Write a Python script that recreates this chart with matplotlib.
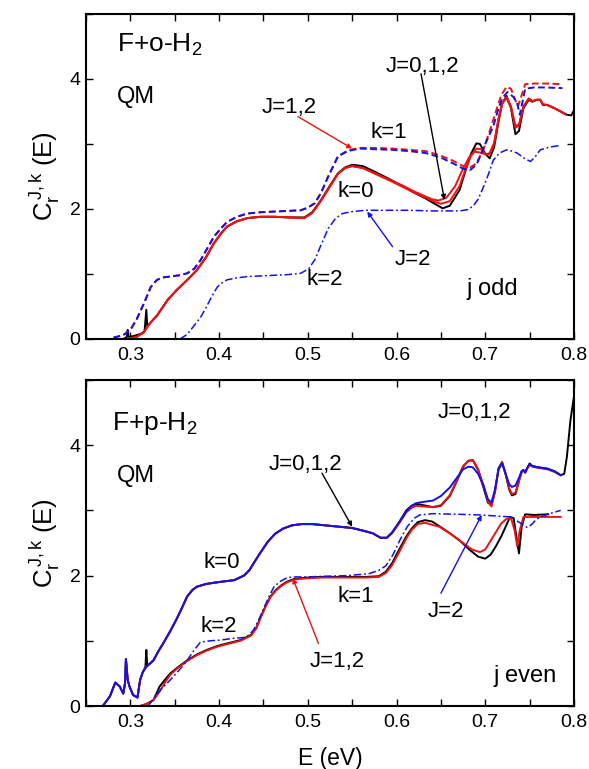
import matplotlib
matplotlib.use("Agg")
import matplotlib.pyplot as plt
from matplotlib.ticker import MultipleLocator, FixedLocator, NullFormatter
from matplotlib import rcParams

rcParams['font.family'] = ['Liberation Sans', 'DejaVu Sans']
rcParams['mathtext.fontset'] = 'custom'
rcParams['mathtext.rm'] = 'Liberation Sans'
rcParams['mathtext.it'] = 'Liberation Sans:italic'
#================================================================================================#
## data: energies (eV) and C_r^{J,k}(E)
# --- upper panel, F + o-H2 (j odd) ---
o_k0_J0_E = [0.292, 0.296, 0.297, 0.298, 0.305, 0.312, 0.316, 0.318, 0.319, 0.322, 0.330, 0.342, 0.352,
             0.365, 0.375, 0.385, 0.394, 0.402, 0.409, 0.420, 0.432, 0.447, 0.462, 0.480, 0.496, 0.505,
             0.515, 0.525, 0.534, 0.542, 0.550, 0.562, 0.576, 0.592, 0.607, 0.620, 0.633, 0.643, 0.652,
             0.660, 0.671, 0.678, 0.684, 0.690, 0.694, 0.700, 0.705, 0.710, 0.715, 0.719, 0.724, 0.729,
             0.734, 0.738, 0.743, 0.749, 0.753, 0.758, 0.762, 0.765, 0.770, 0.778, 0.785, 0.792, 0.797, 0.800]
o_k0_J0_C = [0.00, 0.03, 0.14, 0.03, 0.05, 0.08, 0.12, 0.45, 0.20, 0.24, 0.36, 0.60, 0.75,
             0.92, 1.06, 1.25, 1.47, 1.62, 1.73, 1.81, 1.86, 1.88, 1.88, 1.87, 1.87, 1.95,
             2.14, 2.36, 2.55, 2.64, 2.68, 2.66, 2.57, 2.46, 2.35, 2.25, 2.16, 2.08, 2.01,
             2.05, 2.29, 2.60, 2.85, 3.01, 3.00, 2.85, 2.78, 2.95, 3.35, 3.62, 3.74, 3.55,
             3.15, 3.20, 3.55, 3.68, 3.65, 3.68, 3.68, 3.60, 3.60, 3.55, 3.50, 3.45, 3.44, 3.52]

o_k0_J1_E = [0.293, 0.300, 0.307, 0.315, 0.322, 0.330, 0.342, 0.352, 0.365, 0.375, 0.385, 0.394, 0.402,
             0.409, 0.420, 0.432, 0.447, 0.462, 0.480, 0.496, 0.505, 0.515, 0.525, 0.534, 0.542, 0.550,
             0.562, 0.576, 0.592, 0.607, 0.620, 0.633, 0.643, 0.650, 0.660, 0.671, 0.678, 0.684, 0.690,
             0.695, 0.700, 0.705, 0.710, 0.715, 0.719, 0.724, 0.729, 0.734, 0.738, 0.743, 0.749, 0.753,
             0.758, 0.762, 0.765, 0.770, 0.778, 0.785, 0.790]
o_k0_J1_C = [0.00, 0.01, 0.03, 0.10, 0.24, 0.36, 0.60, 0.75, 0.92, 1.06, 1.25, 1.47, 1.62,
             1.73, 1.81, 1.86, 1.88, 1.88, 1.87, 1.86, 1.94, 2.13, 2.35, 2.54, 2.63, 2.66,
             2.63, 2.54, 2.44, 2.34, 2.25, 2.17, 2.11, 2.08, 2.12, 2.35, 2.62, 2.82, 2.93,
             2.92, 2.85, 2.84, 3.00, 3.38, 3.62, 3.72, 3.58, 3.28, 3.30, 3.58, 3.70, 3.66,
             3.68, 3.68, 3.61, 3.60, 3.55, 3.50, 3.46]

o_k0_J2_E = [0.293, 0.300, 0.307, 0.315, 0.322, 0.330, 0.342, 0.352, 0.365, 0.375, 0.385, 0.394, 0.402,
             0.409, 0.420, 0.432, 0.447, 0.462, 0.480, 0.496, 0.505, 0.515, 0.525, 0.534, 0.542, 0.550,
             0.562, 0.576, 0.592, 0.607, 0.620, 0.633, 0.640, 0.647, 0.656, 0.666, 0.675, 0.682, 0.688,
             0.694, 0.700, 0.705, 0.710, 0.715, 0.719, 0.724, 0.729, 0.734, 0.738, 0.743, 0.749, 0.753,
             0.758, 0.762, 0.765, 0.770, 0.778, 0.785, 0.790]
o_k0_J2_C = [0.00, 0.01, 0.03, 0.10, 0.24, 0.36, 0.60, 0.75, 0.92, 1.06, 1.25, 1.47, 1.62,
             1.73, 1.81, 1.86, 1.88, 1.88, 1.87, 1.86, 1.94, 2.13, 2.35, 2.54, 2.63, 2.66,
             2.63, 2.55, 2.45, 2.36, 2.27, 2.19, 2.15, 2.13, 2.17, 2.35, 2.62, 2.80, 2.88,
             2.87, 2.84, 2.86, 3.02, 3.40, 3.62, 3.71, 3.56, 3.25, 3.28, 3.57, 3.70, 3.66,
             3.68, 3.68, 3.61, 3.60, 3.55, 3.50, 3.46]

o_k1_J1_E = [0.281, 0.292, 0.300, 0.307, 0.316, 0.323, 0.330, 0.338, 0.345, 0.355, 0.364, 0.372, 0.379,
             0.387, 0.394, 0.402, 0.409, 0.420, 0.432, 0.447, 0.462, 0.477, 0.492, 0.500, 0.508, 0.515,
             0.523, 0.534, 0.545, 0.558, 0.575, 0.595, 0.615, 0.633, 0.650, 0.664, 0.675, 0.683, 0.690,
             0.698, 0.705, 0.712, 0.718, 0.724, 0.729, 0.733, 0.737, 0.741, 0.745, 0.755, 0.770, 0.787]
o_k1_J1_C = [0.02, 0.06, 0.14, 0.30, 0.57, 0.80, 0.91, 0.95, 0.96, 0.98, 1.01, 1.08, 1.21,
             1.40, 1.57, 1.70, 1.80, 1.88, 1.93, 1.95, 1.96, 1.97, 1.98, 2.02, 2.09, 2.25,
             2.50, 2.81, 2.90, 2.94, 2.94, 2.93, 2.91, 2.89, 2.82, 2.74, 2.66, 2.64, 2.70,
             2.92, 3.20, 3.50, 3.75, 3.88, 3.85, 3.70, 3.58, 3.75, 3.92, 3.93, 3.93, 3.92]

o_k1_J2_E = [0.281, 0.292, 0.300, 0.307, 0.316, 0.323, 0.330, 0.338, 0.345, 0.355, 0.364, 0.372, 0.379,
             0.387, 0.394, 0.402, 0.409, 0.420, 0.432, 0.447, 0.462, 0.477, 0.492, 0.500, 0.508, 0.515,
             0.523, 0.534, 0.545, 0.558, 0.575, 0.595, 0.615, 0.633, 0.650, 0.664, 0.675, 0.683, 0.690,
             0.694, 0.700, 0.709, 0.715, 0.719, 0.725, 0.732, 0.736, 0.739, 0.742, 0.745, 0.755, 0.766, 0.787]
o_k1_J2_C = [0.02, 0.06, 0.14, 0.30, 0.57, 0.80, 0.91, 0.95, 0.96, 0.98, 1.01, 1.08, 1.21,
             1.40, 1.57, 1.70, 1.80, 1.88, 1.93, 1.95, 1.96, 1.97, 1.98, 2.02, 2.09, 2.25,
             2.50, 2.81, 2.89, 2.93, 2.92, 2.91, 2.89, 2.86, 2.79, 2.70, 2.62, 2.60, 2.68,
             2.80, 3.00, 3.27, 3.55, 3.70, 3.80, 3.72, 3.62, 3.45, 3.65, 3.85, 3.87, 3.87, 3.86]

o_k2_J2_E = [0.356, 0.364, 0.371, 0.379, 0.386, 0.392, 0.398, 0.404, 0.409, 0.420, 0.432, 0.447, 0.462,
             0.477, 0.492, 0.501, 0.508, 0.515, 0.523, 0.531, 0.539, 0.550, 0.565, 0.590, 0.614, 0.640,
             0.671, 0.680, 0.686, 0.692, 0.698, 0.704, 0.709, 0.716, 0.724, 0.730, 0.736, 0.744, 0.751,
             0.756, 0.762, 0.772, 0.785]
o_k2_J2_C = [0.00, 0.07, 0.19, 0.33, 0.50, 0.66, 0.80, 0.87, 0.91, 0.94, 0.96, 0.97, 0.98,
             0.99, 1.01, 1.08, 1.22, 1.45, 1.70, 1.85, 1.93, 1.96, 1.98, 1.98, 1.98, 1.97,
             1.97, 1.99, 2.04, 2.15, 2.34, 2.55, 2.75, 2.86, 2.91, 2.89, 2.86, 2.78, 2.73,
             2.80, 2.91, 2.95, 2.98]

# --- lower panel, F + p-H2 (j even) ---
p_k0_J0_E = [0.270, 0.277, 0.283, 0.288, 0.292, 0.294, 0.295, 0.297, 0.299, 0.303, 0.308, 0.311, 0.314,
             0.317, 0.318, 0.319, 0.322, 0.326, 0.332, 0.337, 0.345, 0.352, 0.358, 0.364, 0.370, 0.375,
             0.385, 0.394, 0.405, 0.417, 0.428, 0.434, 0.439, 0.446, 0.455, 0.463, 0.472, 0.482, 0.493,
             0.505, 0.520, 0.535, 0.550, 0.562, 0.573, 0.582, 0.589, 0.595, 0.603, 0.611, 0.617, 0.622,
             0.630, 0.641, 0.650, 0.660, 0.668, 0.675, 0.681, 0.686, 0.692, 0.698, 0.703, 0.707, 0.711,
             0.715, 0.719, 0.723, 0.727, 0.730, 0.734, 0.738, 0.741, 0.743, 0.745, 0.747, 0.750, 0.753,
             0.760, 0.770, 0.778, 0.785, 0.789, 0.792, 0.796, 0.800]
p_k0_J0_C = [0.02, 0.15, 0.36, 0.30, 0.19, 0.35, 0.72, 0.40, 0.30, 0.17, 0.13, 0.40, 0.52,
             0.60, 0.86, 0.62, 0.65, 0.70, 0.85, 0.96, 1.15, 1.33, 1.50, 1.68, 1.78, 1.83,
             1.87, 1.89, 1.91, 1.93, 2.00, 2.08, 2.19, 2.34, 2.52, 2.64, 2.72, 2.77, 2.79,
             2.79, 2.77, 2.75, 2.73, 2.69, 2.65, 2.58, 2.58, 2.66, 2.82, 3.00, 3.07, 3.10,
             3.08, 3.05, 3.07, 3.22, 3.45, 3.67, 3.76, 3.77, 3.62, 3.35, 3.12, 3.08, 3.30,
             3.65, 3.74, 3.55, 3.32, 3.23, 3.25, 3.45, 3.60, 3.62, 3.58, 3.64, 3.72, 3.68,
             3.66, 3.64, 3.60, 3.54, 3.56, 3.82, 4.38, 4.75]

p_k0_J1_E = [0.270, 0.277, 0.283, 0.288, 0.292, 0.294, 0.295, 0.297, 0.299, 0.303, 0.308, 0.311, 0.314,
             0.318, 0.322, 0.326, 0.332, 0.337, 0.345, 0.352, 0.358, 0.364, 0.370, 0.375, 0.385, 0.394,
             0.405, 0.417, 0.428, 0.434, 0.439, 0.446, 0.455, 0.463, 0.472, 0.482, 0.493, 0.505, 0.520,
             0.535, 0.550, 0.562, 0.573, 0.582, 0.589, 0.595, 0.603, 0.611, 0.617, 0.622, 0.630, 0.641,
             0.650, 0.660, 0.668, 0.675, 0.681, 0.686, 0.692, 0.698, 0.703, 0.707, 0.711, 0.715, 0.719,
             0.723, 0.727, 0.730, 0.734, 0.738, 0.741, 0.743, 0.745, 0.747, 0.750, 0.753, 0.760, 0.770,
             0.778, 0.785]
p_k0_J1_C = [0.02, 0.15, 0.36, 0.30, 0.19, 0.35, 0.72, 0.40, 0.30, 0.17, 0.13, 0.40, 0.52,
             0.60, 0.65, 0.70, 0.85, 0.96, 1.15, 1.33, 1.50, 1.68, 1.78, 1.83, 1.87, 1.89,
             1.91, 1.93, 2.00, 2.08, 2.19, 2.34, 2.52, 2.64, 2.72, 2.77, 2.79, 2.79, 2.77,
             2.75, 2.73, 2.69, 2.65, 2.58, 2.58, 2.65, 2.80, 2.97, 3.04, 3.07, 3.06, 3.05,
             3.08, 3.23, 3.46, 3.68, 3.76, 3.77, 3.63, 3.38, 3.14, 3.06, 3.28, 3.63, 3.74,
             3.56, 3.34, 3.25, 3.27, 3.45, 3.58, 3.61, 3.58, 3.63, 3.70, 3.67, 3.65, 3.63,
             3.59, 3.54]

p_k0_J2_E = [0.270, 0.277, 0.283, 0.288, 0.292, 0.294, 0.295, 0.297, 0.299, 0.303, 0.308, 0.311, 0.314,
             0.318, 0.322, 0.326, 0.332, 0.337, 0.345, 0.352, 0.358, 0.364, 0.370, 0.375, 0.385, 0.394,
             0.405, 0.417, 0.428, 0.434, 0.439, 0.446, 0.455, 0.463, 0.472, 0.482, 0.493, 0.505, 0.520,
             0.535, 0.550, 0.562, 0.573, 0.582, 0.589, 0.595, 0.603, 0.611, 0.617, 0.622, 0.630, 0.641,
             0.650, 0.660, 0.668, 0.675, 0.681, 0.686, 0.692, 0.698, 0.703, 0.707, 0.711, 0.715, 0.719,
             0.723, 0.727, 0.730, 0.734, 0.738, 0.741, 0.743, 0.745, 0.747, 0.750, 0.753, 0.760, 0.770,
             0.778, 0.785]
p_k0_J2_C = [0.02, 0.15, 0.36, 0.30, 0.19, 0.35, 0.72, 0.40, 0.30, 0.17, 0.13, 0.40, 0.52,
             0.60, 0.65, 0.70, 0.85, 0.96, 1.15, 1.33, 1.50, 1.68, 1.78, 1.83, 1.87, 1.89,
             1.91, 1.93, 2.00, 2.08, 2.19, 2.34, 2.52, 2.64, 2.72, 2.77, 2.79, 2.79, 2.77,
             2.75, 2.73, 2.69, 2.65, 2.58, 2.58, 2.66, 2.82, 2.98, 3.07, 3.11, 3.13, 3.15,
             3.22, 3.35, 3.50, 3.63, 3.67, 3.66, 3.56, 3.38, 3.17, 3.12, 3.32, 3.63, 3.72,
             3.56, 3.40, 3.36, 3.38, 3.50, 3.60, 3.62, 3.58, 3.64, 3.71, 3.68, 3.66, 3.64,
             3.60, 3.54]

p_k1_J0_E = [0.311, 0.318, 0.326, 0.333, 0.340, 0.345, 0.355, 0.364, 0.375, 0.386, 0.398, 0.409, 0.424,
             0.436, 0.442, 0.447, 0.453, 0.458, 0.464, 0.470, 0.477, 0.485, 0.500, 0.515, 0.540, 0.565,
             0.580, 0.588, 0.595, 0.603, 0.611, 0.617, 0.624, 0.632, 0.640, 0.648, 0.660, 0.671, 0.682,
             0.692, 0.700, 0.706, 0.712, 0.718, 0.724, 0.728, 0.732, 0.735, 0.738, 0.741, 0.745, 0.755,
             0.771]
p_k1_J0_C = [0.00, 0.03, 0.09, 0.30, 0.42, 0.50, 0.61, 0.70, 0.79, 0.86, 0.92, 0.96, 1.01,
             1.09, 1.20, 1.37, 1.55, 1.68, 1.78, 1.85, 1.91, 1.95, 1.97, 1.98, 1.98, 1.98,
             1.99, 2.06, 2.19, 2.40, 2.60, 2.72, 2.82, 2.85, 2.83, 2.76, 2.65, 2.54, 2.40,
             2.29, 2.26, 2.32, 2.45, 2.60, 2.78, 2.90, 2.88, 2.60, 2.34, 2.75, 2.94, 2.93,
             2.94]

p_k1_J1_E = [0.311, 0.318, 0.326, 0.333, 0.340, 0.345, 0.355, 0.364, 0.375, 0.386, 0.398, 0.409, 0.424,
             0.436, 0.442, 0.447, 0.453, 0.458, 0.464, 0.470, 0.477, 0.485, 0.500, 0.515, 0.540, 0.565,
             0.580, 0.588, 0.595, 0.603, 0.611, 0.617, 0.624, 0.632, 0.648, 0.660, 0.671, 0.685, 0.694,
             0.700, 0.709, 0.718, 0.724, 0.729, 0.733, 0.736, 0.739, 0.743, 0.760, 0.785]
p_k1_J1_C = [0.00, 0.03, 0.09, 0.22, 0.38, 0.48, 0.60, 0.69, 0.78, 0.85, 0.91, 0.95, 1.00,
             1.08, 1.19, 1.36, 1.54, 1.67, 1.77, 1.84, 1.90, 1.94, 1.96, 1.97, 1.97, 1.97,
             1.98, 2.04, 2.16, 2.36, 2.57, 2.70, 2.79, 2.81, 2.75, 2.65, 2.54, 2.40, 2.36,
             2.40, 2.60, 2.80, 2.87, 2.88, 2.70, 2.45, 2.70, 2.90, 2.90, 2.90]

p_k1_J2_E = [0.320, 0.334, 0.345, 0.355, 0.364, 0.372, 0.379, 0.390, 0.401, 0.417, 0.428, 0.434, 0.439,
             0.445, 0.451, 0.457, 0.462, 0.470, 0.477, 0.486, 0.500, 0.520, 0.545, 0.569, 0.580, 0.588,
             0.596, 0.604, 0.612, 0.620, 0.626, 0.641, 0.670, 0.694, 0.728, 0.738, 0.747, 0.752, 0.758,
             0.770, 0.785]
p_k1_J2_C = [0.00, 0.25, 0.40, 0.55, 0.70, 0.86, 0.98, 1.00, 1.01, 1.04, 1.05, 1.09, 1.17,
             1.33, 1.52, 1.70, 1.83, 1.92, 1.97, 1.98, 1.98, 1.99, 2.00, 2.03, 2.08, 2.15,
             2.32, 2.55, 2.75, 2.88, 2.93, 2.95, 2.94, 2.93, 2.90, 2.82, 2.74, 2.78, 2.87,
             2.94, 3.00]
#================================================================================================#
## plot parameters
red = '#ee1111'
blue = '#1111ee'
lw = 1.4
dash = (0, (3.5, 1.8))
dashdot = (0, (5, 1.8, 1.2, 1.8))
fs_tick = 14
fs_note = 16
#================================================================================================#
def style_axis(ax):
    ax.set_xlim(0.25, 0.8)
    ax.set_ylim(0, 5)
    ax.xaxis.set_major_locator(FixedLocator([0.3, 0.4, 0.5, 0.6, 0.7, 0.8]))
    ax.xaxis.set_minor_locator(MultipleLocator(0.05))
    ax.yaxis.set_major_locator(FixedLocator([0, 2, 4]))
    ax.yaxis.set_minor_locator(MultipleLocator(1))
    ax.xaxis.set_minor_formatter(NullFormatter())
    ax.set_xticklabels(['0.3', '0.4', '0.5', '0.6', '0.7', '0.8'])
    ax.tick_params(which='both', direction='in', top=True, right=True, length=5, width=1.0,
                   labelsize=fs_tick)
    ax.tick_params(axis='x', pad=6)
    ax.tick_params(axis='y', pad=4)
    for s in ax.spines.values():
        s.set_linewidth(1.5)
    ax.set_ylabel(r'$\mathregular{C_{r}^{\,J,k}}$ (E)', fontsize=18.5, labelpad=5)


def note(ax, text, xy, color='black', fs=fs_note, arrow_to=None, arrow_from=None):
    ax.text(xy[0], xy[1], text, fontsize=fs, color='black', ha='left', va='baseline')
    if arrow_to is not None:
        ax.annotate('', xy=arrow_to, xytext=arrow_from,
                    arrowprops=dict(arrowstyle='-|>', color=color, lw=1.0,
                                    mutation_scale=7, shrinkA=0, shrinkB=0))


fig = plt.figure(figsize=(5.89, 7.69), dpi=100)
ax1 = fig.add_axes([0.146, 0.5592, 0.8285, 0.4226])
ax2 = fig.add_axes([0.146, 0.0819, 0.8285, 0.4240])

# upper panel
ax1.plot(o_k0_J0_E, o_k0_J0_C, color='black', lw=lw)
ax1.plot(o_k0_J1_E, o_k0_J1_C, color=red, lw=lw)
ax1.plot(o_k0_J2_E, o_k0_J2_C, color=red, lw=lw)
ax1.plot(o_k1_J1_E, o_k1_J1_C, color=red, lw=lw, linestyle=dash)
ax1.plot(o_k1_J2_E, o_k1_J2_C, color=blue, lw=lw, linestyle=dash)
ax1.plot(o_k2_J2_E, o_k2_J2_C, color=blue, lw=1.1, linestyle=dashdot)
style_axis(ax1)

ax1.text(0.2852, 4.42, r'F+o-H$_\mathregular{2}$', fontsize=19, ha='left', va='baseline')
ax1.text(0.2852, 3.63, 'QM', fontsize=17, ha='left', va='baseline')
note(ax1, 'J=1,2', (0.4477, 3.47), color=red, arrow_to=(0.550, 2.93), arrow_from=(0.489, 3.42))
note(ax1, 'k=1', (0.5705, 3.09))
note(ax1, 'k=0', (0.533, 2.18))
note(ax1, 'J=0,1,2', (0.5875, 4.11), color='black', arrow_to=(0.654, 2.14), arrow_from=(0.6276, 4.08))
note(ax1, 'J=2', (0.5977, 1.14), color=blue, arrow_to=(0.567, 1.96), arrow_from=(0.5955, 1.42))
note(ax1, 'k=2', (0.4989, 0.83))
note(ax1, 'j odd', (0.6784, 0.68), fs=17)

# lower panel
ax2.plot(p_k0_J0_E, p_k0_J0_C, color='black', lw=lw)
ax2.plot(p_k0_J1_E, p_k0_J1_C, color=red, lw=lw)
ax2.plot(p_k0_J2_E, p_k0_J2_C, color=blue, lw=lw)
ax2.plot(p_k1_J0_E, p_k1_J0_C, color='black', lw=lw)
ax2.plot(p_k1_J1_E, p_k1_J1_C, color=red, lw=lw)
ax2.plot(p_k1_J2_E, p_k1_J2_C, color=blue, lw=1.1, linestyle=dashdot)
style_axis(ax2)
ax2.set_xlabel('E (eV)', fontsize=16.5, labelpad=11)

ax2.text(0.2795, 4.23, r'F+p-H$_\mathregular{2}$', fontsize=19, ha='left', va='baseline')
ax2.text(0.2852, 3.43, 'QM', fontsize=17, ha='left', va='baseline')
note(ax2, 'J=0,1,2', (0.6466, 4.41))
note(ax2, 'J=0,1,2', (0.4557, 3.62), color='black', arrow_to=(0.550, 2.75), arrow_from=(0.516, 3.57))
note(ax2, 'k=0', (0.383, 2.11))
note(ax2, 'k=2', (0.3795, 1.13))
note(ax2, 'k=1', (0.533, 1.59))
note(ax2, 'J=2', (0.6352, 1.36), color=blue, arrow_to=(0.696, 2.93), arrow_from=(0.650, 1.73))
note(ax2, 'J=1,2', (0.5023, 0.60), color=red, arrow_to=(0.483, 1.96), arrow_from=(0.512, 0.96))
note(ax2, 'j even', (0.709, 0.37), fs=17)

plt.savefig('out.png', dpi=100)
